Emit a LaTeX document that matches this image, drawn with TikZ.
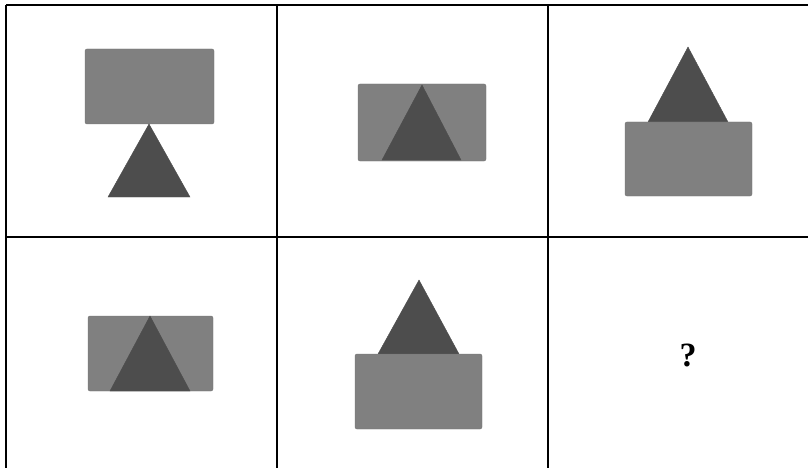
\documentclass[tikz,border=0pt]{standalone}
\usepackage{fontspec}
\setmainfont{Liberation Serif}
\usetikzlibrary{positioning}
\definecolor{BoxGray}{HTML}{808080}
\definecolor{TriGray}{HTML}{4D4D4D}

\begin{document}
\begin{tikzpicture}[x=1pt, y=-1pt,
    gridline/.style={draw=black, line width=1.4pt},
    rectbox/.style={fill=BoxGray, draw=BoxGray!90!black, line width=0.4pt, rounded corners=2pt},
    tripiece/.style={fill=TriGray, draw=TriGray, line width=0.4pt}]
    \useasboundingbox (0,0) rectangle (808,468);

    % Table grid
    \draw[gridline] (6,5) -- (808,5);
    \draw[gridline] (6,237) -- (808,237);
    \foreach \gx in {6,277,548} {
        \draw[gridline] (\gx,5) -- (\gx,468);
    }

    % Cell 1: box above, triangle below
    \draw[rectbox] (85,49) rectangle (214,124);
    \draw[tripiece] (149,124) -- (190,197) -- (108,197) -- cycle;

    % Cell 2: triangle inside box
    \draw[rectbox] (358,84) rectangle (486,161);
    \draw[tripiece] (422,85) -- (461,160) -- (382,160) -- cycle;

    % Cell 3: triangle on top of box
    \draw[tripiece] (688,47) -- (728,122) -- (648,122) -- cycle;
    \draw[rectbox] (625,122) rectangle (752,196);

    % Cell 4: triangle inside box
    \draw[rectbox] (88,316) rectangle (213,391);
    \draw[tripiece] (150,316) -- (190,391) -- (110,391) -- cycle;

    % Cell 5: triangle on top of box
    \draw[tripiece] (419,280) -- (459,354) -- (378,354) -- cycle;
    \draw[rectbox] (355,354) rectangle (482,429);

    % Cell 6: question mark
    \node[font=\fontsize{34}{40}\selectfont\bfseries] (qmark) at (688,355) {?};
\end{tikzpicture}
\end{document}
